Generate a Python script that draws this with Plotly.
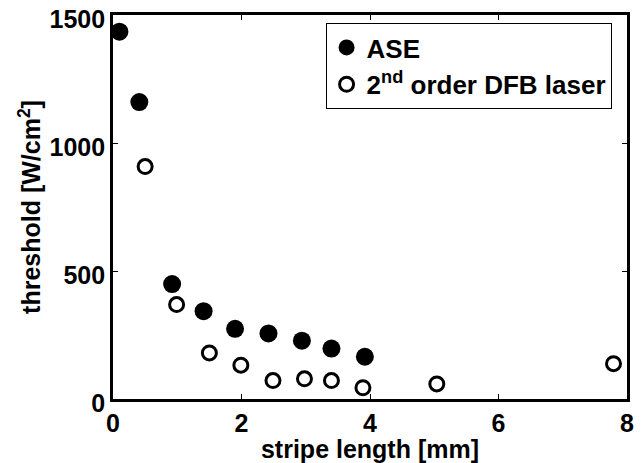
import plotly.graph_objects as go

ase_x = [0.10, 0.41, 0.92, 1.41, 1.90, 2.42, 2.94, 3.40, 3.92]
ase_y = [1435, 1160, 449, 343, 274, 256, 228, 197, 165]

dfb_x = [0.50, 0.99, 1.50, 1.99, 2.49, 2.98, 3.40, 3.89, 5.04, 7.79]
dfb_y = [908, 369, 180, 132, 72, 79, 72, 44, 59, 138]

x_ticks = [0, 2, 4, 6, 8]
y_ticks = [0, 500, 1000, 1500]

font_family = "Liberation Sans, Arial, Helvetica, sans-serif"
fsize = 25

fig = go.Figure()
fig.add_trace(go.Scatter(
    x=ase_x, y=ase_y, mode="markers", name="<b>ASE</b>",
    marker=dict(symbol="circle", size=18, color="black", line=dict(width=0)),
))
fig.add_trace(go.Scatter(
    x=dfb_x, y=dfb_y, mode="markers", name="<b>2<sup>nd</sup> order DFB laser</b>",
    marker=dict(symbol="circle-open", size=14, color="black", line=dict(width=3, color="black")),
))

axis_common = dict(
    showline=True, linewidth=2.7, linecolor="black", mirror="allticks",
    ticks="inside", ticklen=5, tickwidth=1.3, tickcolor="black",
    showgrid=False, zeroline=False, automargin=False,
    ticklabeloverflow="allow",
    tickfont=dict(family=font_family, size=fsize, color="black", weight="bold"),
)

fig.update_layout(
    width=635, height=455,
    margin=dict(l=105, r=16, t=7, b=64),
    paper_bgcolor="white", plot_bgcolor="white",
    font=dict(family=font_family, color="black"),
    showlegend=True,
    legend=dict(
        x=0.97, y=0.979, xanchor="right", yanchor="top",
        bordercolor="black", borderwidth=1, bgcolor="white",
        font=dict(family=font_family, size=26, color="black"),
        itemsizing="trace",
    ),
    xaxis=dict(
        range=[0, 8], tickvals=x_ticks, ticktext=[str(v) for v in x_ticks],
        title=dict(text="<b>stripe length [mm]</b>", font=dict(family=font_family, size=fsize, color="black"), standoff=0),
        **axis_common,
    ),
    yaxis=dict(
        range=[0, 1500], tickvals=y_ticks, ticktext=[str(v) for v in y_ticks],
        ticklabelshift=4,
        title=dict(text="<b>threshold [W/cm<sup>2</sup>]</b>", font=dict(family=font_family, size=fsize, color="black"), standoff=2),
        **axis_common,
    ),
)

fig.write_html("out.html")
